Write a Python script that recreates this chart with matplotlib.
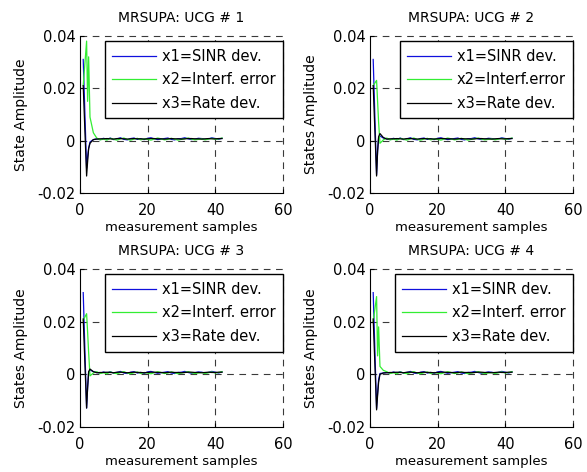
import matplotlib
matplotlib.use("Agg")
import matplotlib.pyplot as plt
import numpy as np

# sample positions: a few early points (one sub-step around sample 2-3), then steady state
x_head = [1, 2, 2.3, 2.6, 3, 4]
x_tail = list(range(5, 43))

titles = ["MRSUPA: UCG # 1", "MRSUPA: UCG # 2", "MRSUPA: UCG # 3", "MRSUPA: UCG # 4"]
ylabels = ["State Amplitude", "States Amplitude", "States Amplitude", "States Amplitude"]
labels_x1 = ["x1=SINR dev."] * 4
labels_x2 = ["x2=Interf. error", "x2=Interf.error", "x2=Interf. error", "x2=Interf. error"]
labels_x3 = ["x3=Rate dev."] * 4

# transient part of each state, one row per UCG
sinr_head = [
    [0.031, -0.0105, -0.006, -0.003, -0.0005, 0.0004],
    [0.031, -0.013, -0.004, 0.001, 0.0018, 0.001],
    [0.031, -0.0128, -0.005, 0.0005, 0.0017, 0.001],
    [0.031, -0.013, -0.007, -0.002, 0.0003, 0.0005],
]
interf_head = [
    [0.021, 0.038, 0.015, 0.032, 0.009, 0.003],
    [0.021, 0.023, 0.015, 0.007, -0.001, 0.0003],
    [0.0205, 0.023, 0.016, 0.0083, -0.0006, 0.0005],
    [0.020, 0.0295, 0.007, 0.018, 0.003, 0.0015],
]
rate_head = [
    [0.021, -0.0135, -0.008, -0.003, -0.001, 0.0004],
    [0.021, -0.0135, -0.004, 0.0015, 0.0027, 0.0012],
    [0.021, -0.0128, -0.005, 0.001, 0.002, 0.001],
    [0.021, -0.0135, -0.008, -0.003, 0.0, 0.0005],
]

# steady-state ripple (units of 1e-3)
sinr_tail = [0.7, 0.4, 0.9, 0.5, 1.0, 0.4, 0.7, 1.1, 0.5, 0.3,
             0.8, 1.0, 0.5, 0.7, 0.4, 0.9, 1.1, 0.7, 0.4, 0.6,
             0.8, 1.0, 0.5, 0.3, 0.7, 0.8, 1.1, 0.7, 0.4, 0.6,
             0.9, 0.8, 0.5, 0.7, 1.1, 0.8, 0.5, 0.9]
interf_tail = [1.0, 0.3, 0.6, 0.2, 0.9, 0.5, 0.2, 0.7, 1.0, 0.5,
               0.2, 0.6, 0.9, 0.3, 0.7, 0.5, 0.2, 0.6, 1.0, 0.7,
               0.3, 0.5, 0.9, 0.6, 0.2, 0.5, 0.7, 1.0, 0.6, 0.3,
               0.5, 0.7, 0.3, 0.6, 0.9, 0.5, 0.7, 1.0]
rate_tail = [0.6, 0.7, 0.7, 0.8, 0.7, 0.6, 0.8, 0.8, 0.7, 0.6,
             0.7, 0.8, 0.7, 0.7, 0.6, 0.7, 0.8, 0.8, 0.7, 0.7,
             0.6, 0.7, 0.8, 0.7, 0.7, 0.6, 0.7, 0.8, 0.8, 0.7,
             0.7, 0.6, 0.7, 0.8, 0.7, 0.7, 0.8, 0.8]

x_ticks = [0, 20, 40, 60]
y_ticks = [-0.02, 0, 0.02, 0.04]
y_ticklabels = ["-0.02", "0", "0.02", "0.04"]

plt.rcParams['font.family'] = ['DejaVu Sans']
fig = plt.figure(figsize=(5.87, 4.72), dpi=100)

rects = [
    [0.136, 0.591, 0.346, 0.333],
    [0.630, 0.591, 0.346, 0.333],
    [0.136, 0.0953, 0.346, 0.335],
    [0.630, 0.0953, 0.346, 0.335],
]

x = np.array(x_head + x_tail)
for i in range(4):
    ax = fig.add_axes(rects[i])
    s1 = np.array(sinr_head[i] + [v * 1e-3 for v in sinr_tail])
    s2 = np.array(interf_head[i] + [v * 1e-3 for v in interf_tail])
    s3 = np.array(rate_head[i] + [v * 1e-3 for v in rate_tail])
    ax.plot(x, s1, color='#1010dd', lw=0.9, label=labels_x1[i])
    ax.plot(x, s2, color='#33ee33', lw=0.9, label=labels_x2[i])
    ax.plot(x, s3, color='black', lw=0.9, label=labels_x3[i])

    ax.set_xlim(0, 60)
    ax.set_ylim(-0.02, 0.04)
    ax.set_xticks(x_ticks)
    ax.set_yticks(y_ticks)
    ax.set_yticklabels(y_ticklabels)
    ax.tick_params(direction='in', labelsize=10.5, length=3)
    ax.tick_params(axis='x', pad=7)
    ax.tick_params(axis='y', pad=3)

    # dashed grid, including at the upper/right limits (box off)
    for xv in x_ticks[1:]:
        ax.axvline(xv, color='#3a3a3a', ls=(0, (6, 5)), lw=0.8, clip_on=False, zorder=0)
    for yv in y_ticks[1:]:
        ax.axhline(yv, color='#3a3a3a', ls=(0, (6, 5)), lw=0.8, clip_on=False, zorder=0)
    ax.spines['top'].set_visible(False)
    ax.spines['right'].set_visible(False)

    ax.set_title(titles[i], fontsize=10, pad=10)
    ax.set_xlabel("measurement samples", fontsize=9.5, labelpad=2)
    ax.set_ylabel(ylabels[i], fontsize=10, labelpad=7)

    leg = ax.legend(loc='upper right', bbox_to_anchor=(1.0, 0.965), borderaxespad=0,
                    fontsize=10.5, fancybox=False, edgecolor='black', framealpha=1,
                    handlelength=3.0, handletextpad=0.4, labelspacing=0.6,
                    borderpad=0.5)
    leg.get_frame().set_linewidth(1.0)

fig.savefig("out.png", dpi=100)
